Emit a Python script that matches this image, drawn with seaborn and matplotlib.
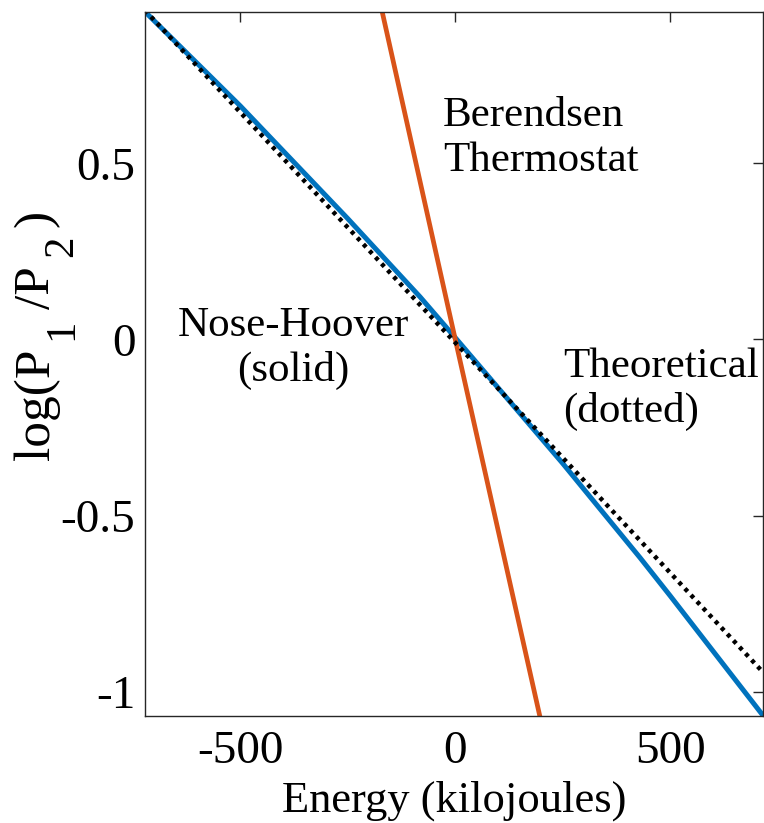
import matplotlib
matplotlib.use("Agg")
import matplotlib.pyplot as plt
import seaborn as sns
import pandas as pd

# Nose-Hoover (solid, blue)
energy_nh = [-722, -500, -250, -82, 0, 250, 430, 500, 716]
logratio_nh = [0.931, 0.663, 0.343, 0.121, 0.005, -0.352, -0.620, -0.728, -1.068]

# Berendsen thermostat (solid, orange)
energy_b = [-180, 0, 205]
logratio_b = [0.985, 0.0, -1.115]

# Theoretical (dotted, black)
energy_th = [-722, 0, 716]
logratio_th = [0.935, -0.009, -0.945]

xticks = [-500, 0, 500]
yticks = [-1, -0.5, 0, 0.5]
ytick_labels = ["-1", "-0.5", "0", "0.5"]
xtick_labels = ["-500", "0", "500"]

sns.set_theme(style="white")
plt.rcParams["font.family"] = ["Liberation Serif", "DejaVu Serif"]
plt.rcParams["axes.unicode_minus"] = False

W, H = 764, 823
fig = plt.figure(figsize=(W / 100, H / 100), dpi=100)
ax = fig.add_axes([145 / W, 1 - 715.5 / H, (763 - 145) / W, (715.5 - 11.7) / H])

df_nh = pd.DataFrame({"E": energy_nh, "L": logratio_nh})
df_b = pd.DataFrame({"E": energy_b, "L": logratio_b})
df_th = pd.DataFrame({"E": energy_th, "L": logratio_th})

sns.lineplot(data=df_nh, x="E", y="L", ax=ax, color="#0072BD", linewidth=3.6,
             sort=False, estimator=None)
sns.lineplot(data=df_b, x="E", y="L", ax=ax, color="#D95319", linewidth=3.4,
             sort=False, estimator=None)
sns.lineplot(data=df_th, x="E", y="L", ax=ax, color="black", linewidth=3.2,
             sort=False, estimator=None, linestyle=(0, (0.9, 1.1)))

ax.set_xlim(-722, 716)
ax.set_ylim(-1.068, 0.931)
ax.set_xticks(xticks)
ax.set_xticklabels(xtick_labels)
ax.set_yticks(yticks)
ax.set_yticklabels(ytick_labels)

for s in ax.spines.values():
    s.set_color("#262626")
    s.set_linewidth(1.0)
ax.tick_params(direction="in", length=7, width=1.0, color="#262626",
               labelsize=34, top=True, right=True, labelcolor="black")
ax.tick_params(axis="y", pad=7)
ax.tick_params(axis="x", pad=11)

ax.set_xlabel("Energy (kilojoules)", fontsize=32, color="black", labelpad=5)
ax.set_ylabel("")

# y label with MATLAB-style large, lowered subscripts
fig.canvas.draw()
renderer = fig.canvas.get_renderer()
pieces = [("log(P", 37, 49, 9), ("1", 31, 72, 9), ("/P", 37, 49, 9),
          ("2", 31, 72, 9), (")", 37, 49, 0)]
y_cur = H - 460
for txt, fs, xb, gap in pieces:
    t = fig.text(xb / W, y_cur / H, txt, rotation=90, rotation_mode="anchor",
                 ha="left", va="baseline", fontsize=fs, color="black")
    ext = t.get_window_extent(renderer)
    y_cur = ext.y1 + gap

ax.text(-29, 0.572, "Berendsen\nThermostat", fontsize=31, color="black",
        ha="left", va="center", linespacing=1.2)
ax.text(-376, -0.025, "Nose-Hoover\n(solid)", fontsize=31, color="black",
        ha="center", va="center", multialignment="center", linespacing=1.2)
ax.text(250, -0.141, "Theoretical\n(dotted)", fontsize=31, color="black",
        ha="left", va="center", linespacing=1.2)

fig.savefig("out.png", dpi=100)
